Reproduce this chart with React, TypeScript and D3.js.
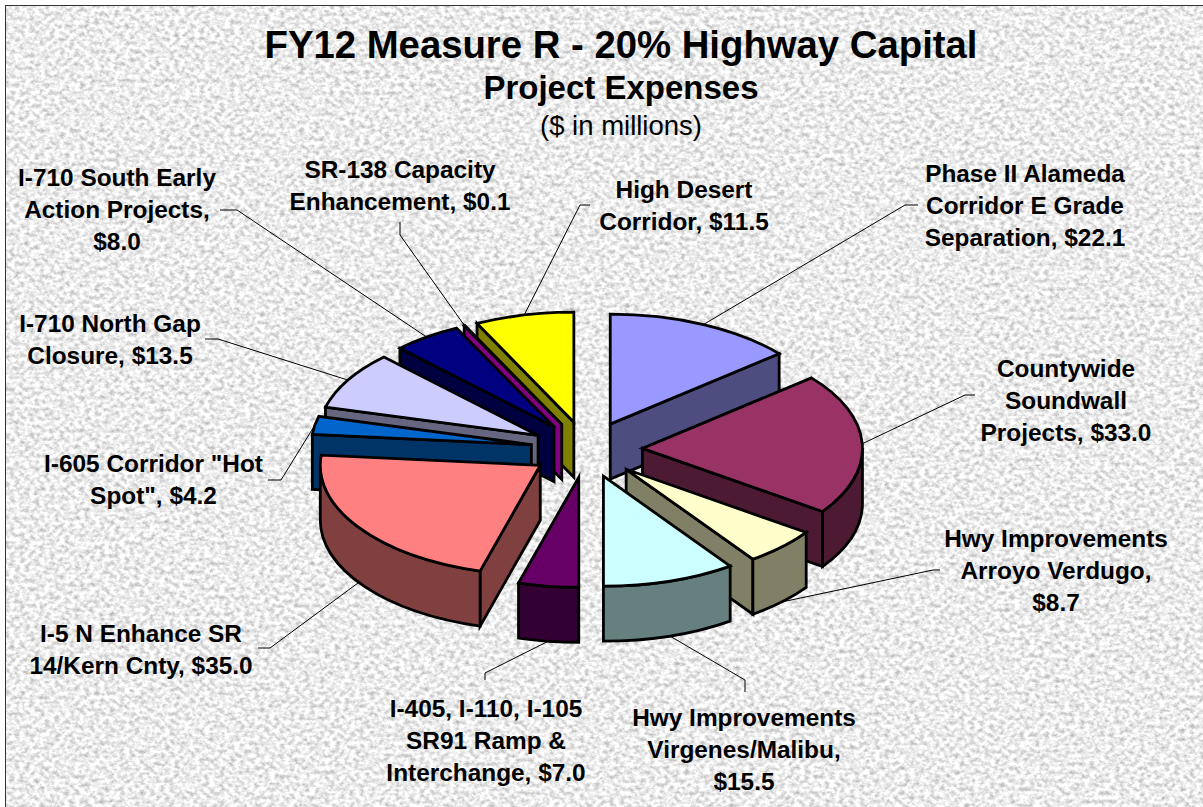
import React from "react";
import * as d3 from "d3";

const width = 1203;
const height = 807;

const names = [
  "Phase II Alameda Corridor E Grade Separation",
  "Countywide Soundwall Projects",
  "Hwy Improvements Arroyo Verdugo",
  "Hwy Improvements Virgenes/Malibu",
  "I-405, I-110, I-105 SR91 Ramp & Interchange",
  "I-5 N Enhance SR 14/Kern Cnty",
  "I-605 Corridor Hot Spot",
  "I-710 North Gap Closure",
  "I-710 South Early Action Projects",
  "SR-138 Capacity Enhancement",
  "High Desert Corridor",
];
const values = [22.1, 33.0, 8.7, 15.5, 7.0, 35.0, 4.2, 13.5, 8.0, 0.1, 11.5];
const topColors = ["#9999FF", "#993366", "#FFFFCC", "#CCFFFF", "#660066", "#FF8080", "#0066CC", "#CCCCFF", "#000080", "#FF00FF", "#FFFF00"];
const sideColors = ["#4D4D80", "#4D1A33", "#808066", "#668080", "#330033", "#804040", "#003366", "#666680", "#000040", "#800080", "#808000"];

const labelLines = [
  ["Phase II Alameda", "Corridor E Grade", "Separation, $22.1"],
  ["Countywide", "Soundwall", "Projects, $33.0"],
  ["Hwy Improvements", "Arroyo Verdugo,", "$8.7"],
  ["Hwy Improvements", "Virgenes/Malibu,", "$15.5"],
  ["I-405, I-110, I-105", "SR91 Ramp &", "Interchange, $7.0"],
  ["I-5 N Enhance SR", "14/Kern Cnty, $35.0"],
  ["I-605 Corridor \"Hot", "Spot\", $4.2"],
  ["I-710 North Gap", "Closure, $13.5"],
  ["I-710 South Early", "Action Projects,", "$8.0"],
  ["SR-138 Capacity", "Enhancement, $0.1"],
  ["High Desert", "Corridor, $11.5"],
];

// label centre x, first baseline, then the leader's far end (elbow + tip)
const labelPlaces = [
  { x: 1025, y: 182, leader: [[905, 205], [918, 205]] },
  { x: 1066, y: 377, leader: [[965, 395], [975, 395]] },
  { x: 1056, y: 547, leader: [[933, 570], [940, 570]] },
  { x: 744, y: 726, leader: [[745, 680], [745, 692]] },
  { x: 486, y: 717, leader: [[485, 673], [485, 680]] },
  { x: 141, y: 642, leader: [[270, 648], [258, 648]] },
  { x: 153.5, y: 472, leader: [[281, 480], [268, 480]] },
  { x: 110, y: 332, leader: [[218, 339], [205, 339]] },
  { x: 117, y: 186, leader: [[237, 210], [220, 210]] },
  { x: 400, y: 178, leader: [[400, 235], [400, 222]] },
  { x: 684, y: 198, leader: [[580, 205], [590, 205]] },
];

const cx = 586.5;
const cy = 449.5;
const rx = 220;
const ry = 110;
const depth = 55;
const explode = 56;
const lineStep = 32;

const App = () => {
  const slices = d3.pie<number>().sort(null)(values);

  const pieces = slices.map((s, i) => {
    const mid = (s.startAngle + s.endAngle) / 2;
    const ax = cx + explode * Math.sin(mid);
    const ay = cy - (explode * Math.cos(mid) * ry) / rx;
    const pt = (a: number, dz = 0): [number, number] => [
      ax + rx * Math.sin(a),
      ay - ry * Math.cos(a) + dz,
    ];
    const arcTo = (a: number, dz: number, sweep: number, big = 0) => {
      const p = pt(a, dz);
      return `A${rx},${ry} 0 ${big} ${sweep} ${p[0]},${p[1]}`;
    };

    const top =
      `M${ax},${ay} L${pt(s.startAngle)} ` +
      arcTo(s.endAngle, 0, 1, s.endAngle - s.startAngle > Math.PI ? 1 : 0) +
      " Z";

    const walls: string[] = [];
    // a cut face shows only when it turns toward the viewer
    const cutFace = (a: number) => {
      const p = pt(a);
      walls.push(`M${ax},${ay} L${p} L${p[0]},${p[1] + depth} L${ax},${ay + depth} Z`);
    };
    if (s.startAngle > Math.PI) cutFace(s.startAngle);
    if (s.endAngle < Math.PI) cutFace(s.endAngle);

    // rim: only the front half of the ellipse is visible
    const a0 = Math.max(s.startAngle, Math.PI / 2);
    const a1 = Math.min(s.endAngle, (3 * Math.PI) / 2);
    if (a1 > a0) {
      walls.push(`M${pt(a0)} ` + arcTo(a1, 0, 1) + ` L${pt(a1, depth)} ` + arcTo(a0, depth, 0) + " Z");
    }

    const rimZ = mid > Math.PI / 2 && mid < (3 * Math.PI) / 2 ? depth : 0;
    const leader = [pt(mid, rimZ), ...labelPlaces[i].leader];

    return { i, ay, top, walls, leader };
  });

  const order = d3.sort(pieces, (p) => p.ay);
  const leaderLine = d3.line();

  return (
    <svg
      width={width}
      height={height}
      style={{ position: "fixed", left: 0, top: 0, fontFamily: "'Liberation Sans', Arial, sans-serif" }}
    >
      <defs>
        <filter id="granite" x="0" y="0" width="100%" height="100%" colorInterpolationFilters="sRGB">
          <feTurbulence type="fractalNoise" baseFrequency="0.2 0.24" numOctaves={3} seed={7} />
          <feColorMatrix
            type="matrix"
            values="0.55 0 0 0 0.65  0.55 0 0 0 0.65  0.55 0 0 0 0.65  0 0 0 0 1"
          />
          <feGaussianBlur stdDeviation={0.6} />
        </filter>
      </defs>
      <rect width={width} height={height} fill="#fff" />
      <rect x={6} y={6} width={width} height={height} filter="url(#granite)" />
      <rect x={5.5} y={5.5} width={width} height={height} fill="none" stroke="#333" strokeWidth={1} />

      <g fill="none" stroke="#000" strokeWidth={1}>
        {pieces.map((p) => (
          <path key={p.i} d={leaderLine(p.leader as [number, number][]) as string} />
        ))}
      </g>

      <g stroke="#000" strokeWidth={2.8} strokeLinejoin="miter">
        {order.map((p) => (
          <g key={p.i}>
            {p.walls.map((d, j) => (
              <path key={j} d={d} fill={sideColors[p.i]} />
            ))}
            <path d={p.top} fill={topColors[p.i]}>
              <title>{names[p.i]}</title>
            </path>
          </g>
        ))}
      </g>

      <g textAnchor="middle" fill="#000">
        <text x={621} y={58} fontSize={38.3} fontWeight="bold">FY12 Measure R - 20% Highway Capital</text>
        <text x={621} y={99} fontSize={33} fontWeight="bold">Project Expenses</text>
        <text x={621} y={135} fontSize={27.5}>($ in millions)</text>
      </g>

      <g textAnchor="middle" fill="#000" fontSize={24.4} fontWeight="bold">
        {labelLines.map((lines, i) => (
          <text key={i}>
            {lines.map((line, j) => (
              <tspan key={j} x={labelPlaces[i].x} y={labelPlaces[i].y + j * lineStep}>
                {line}
              </tspan>
            ))}
          </text>
        ))}
      </g>
    </svg>
  );
};

export default App;
